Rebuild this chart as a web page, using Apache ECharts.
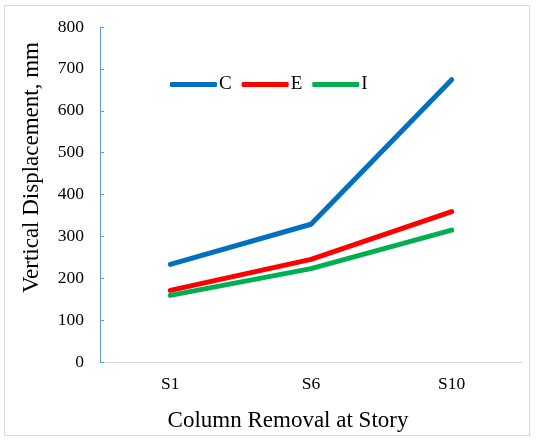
<!DOCTYPE html>
<html>
<head>
<meta charset="utf-8">
<script src="https://cdn.jsdelivr.net/npm/echarts@6/dist/echarts.min.js"></script>
<style>
  html, body { margin: 0; padding: 0; background: #fff; }
  #frame { position: absolute; left: 4px; top: 5px; width: 524px; height: 429px; border: 1px solid #d9d9d9; }
  #chart { position: absolute; left: 0; top: 0; width: 536px; height: 442px; }
</style>
</head>
<body>
<div id="frame"></div>
<div id="chart"></div>
<script>
// data
var stories = ['S1', 'S6', 'S10']
var seriesNames = ['C', 'E', 'I']
var valuesC = [233, 329, 674]
var valuesE = [171, 245, 359]
var valuesI = [159, 223, 315]
var colors = ['#0070C0', '#FF0000', '#00B050']

var font = 'Liberation Serif'
var myChart = echarts.init(document.getElementById('chart'))

var option = {
  animation: false,
  color: colors,
  textStyle: { fontFamily: font },
  grid: { left: 100, right: 14, top: 27, bottom: 80, containLabel: false },
  legend: {
    data: seriesNames,
    left: 165,
    top: 70,
    icon: 'roundRect',
    itemWidth: 47,
    itemHeight: 5,
    itemGap: 10,
    textStyle: { fontFamily: font, fontSize: 19, color: '#000', padding: [0, 0, 0, -3] }
  },
  xAxis: {
    type: 'category',
    data: stories,
    name: 'Column Removal at Story',
    nameLocation: 'middle',
    nameGap: 47,
    // the title sits left of the plot centre in the original
    nameTextStyle: { fontFamily: font, fontSize: 23, color: '#000', padding: [0, 46, 0, 0] },
    axisLine: { lineStyle: { color: '#d9d9d9', width: 1 } },
    axisTick: { show: false },
    axisLabel: { fontFamily: font, fontSize: 17.5, color: '#000', margin: 13 }
  },
  yAxis: {
    type: 'value',
    min: 0,
    max: 800,
    interval: 100,
    name: 'Vertical Displacement, mm',
    nameLocation: 'middle',
    nameGap: 57,
    nameTextStyle: { fontFamily: font, fontSize: 23, color: '#000', padding: [0, 0, 0, 54] },
    axisLine: { show: true, lineStyle: { color: '#5B9BD5', width: 1 } },
    axisTick: { show: true, inside: true, length: 4, lineStyle: { color: '#5B9BD5' } },
    splitLine: { show: false },
    axisLabel: { fontFamily: font, fontSize: 17.5, color: '#000', margin: 16 }
  },
  series: [
    { name: 'C', type: 'line', data: valuesC, symbol: 'none', lineStyle: { width: 5, cap: 'round' } },
    { name: 'E', type: 'line', data: valuesE, symbol: 'none', lineStyle: { width: 5, cap: 'round' } },
    { name: 'I', type: 'line', data: valuesI, symbol: 'none', lineStyle: { width: 5, cap: 'round' } }
  ]
}
myChart.setOption(option)
</script>
</body>
</html>
